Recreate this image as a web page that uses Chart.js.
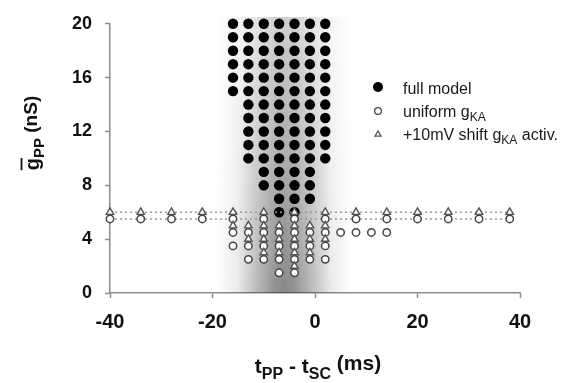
<!DOCTYPE html>
<html>
<head>
<meta charset="utf-8">
<script src="https://cdn.jsdelivr.net/npm/chart.js@4.4.1/dist/chart.umd.min.js"></script>
<style>
html, body { margin: 0; padding: 0; background: #fff; }
#wrap { width: 571px; height: 383px; position: relative; }
</style>
</head>
<body>
<div id="wrap"><canvas id="chart"></canvas></div>
<script>
// axis ticks
const xTicks = [-40, -20, 0, 20, 40];
const yTicks = [0, 4, 8, 12, 16, 20];

// full model: timing columns (ms) and the g values (nS) that fire
const fullTimes = [-16, -13, -10, -7, -4, -1, 2];
const fullG = [
  [20, 19, 18, 17, 16, 15],
  [20, 19, 18, 17, 16, 15, 14, 13, 12, 11, 10],
  [20, 19, 18, 17, 16, 15, 14, 13, 12, 11, 10, 9, 8],
  [20, 19, 18, 17, 16, 15, 14, 13, 12, 11, 10, 9, 8, 7, 6],
  [20, 19, 18, 17, 16, 15, 14, 13, 12, 11, 10, 9, 8, 7, 6],
  [20, 19, 18, 17, 16, 15, 14, 13, 12, 11, 10, 9, 8, 7],
  [20, 19, 18, 17, 16, 15, 14, 13, 12, 11, 10]
];

// dotted threshold rows (same timings for both variants)
const lineTimes = [-40, -34, -28, -22, -16, -10, -4, 2, 8, 14, 20, 26, 32, 38];
const uniformLineG = 5.5;
const shiftLineG = 6;

// uniform gKA: extra points below the dotted row
const uniformTimes = [-16, -13, -10, -7, -4, -1, 2, 5, 8, 11, 14];
const uniformG = [
  [4.5, 3.5],
  [4.5, 3.5, 2.5],
  [4.5, 3.5, 2.5],
  [4.5, 3.5, 2.5, 1.5],
  [4.5, 3.5, 2.5, 1.5],
  [4.5, 3.5, 2.5],
  [4.5, 3.5, 2.5],
  [4.5],
  [4.5],
  [4.5],
  [4.5]
];

// +10mV shift gKA activation: extra points below the dotted row
const shiftTimes = [-16, -13, -10, -7, -4, -1, 2];
const shiftG = [
  [5],
  [5, 4],
  [5, 4, 3],
  [5, 4, 3],
  [5, 4, 3, 2],
  [5, 4, 3],
  [5, 4]
];

// grey timing window behind the dots
const bandCenter = -6;
const bandHalf = 13;

const FONT = '"Liberation Sans", Arial, sans-serif';

function toPoints(times, gs) {
  return times.flatMap((t, i) => gs[i].map(g => ({ x: t, y: g })));
}

const bandPlugin = {
  id: 'band',
  beforeDatasetsDraw(chart) {
    const { ctx, scales: { x, y } } = chart;
    const x0 = x.getPixelForValue(bandCenter - bandHalf);
    const x1 = x.getPixelForValue(bandCenter + bandHalf);
    const top = y.getPixelForValue(20.5);
    const bottom = y.getPixelForValue(0);
    const p = 0.55;
    ctx.save();
    // horizontal profile
    const g = ctx.createLinearGradient(x0, 0, x1, 0);
    g.addColorStop(0, 'rgba(40,40,40,0)');
    g.addColorStop(0.15, `rgba(40,40,40,${p * 0.18})`);
    g.addColorStop(0.3, `rgba(40,40,40,${p * 0.6})`);
    g.addColorStop(0.44, `rgba(40,40,40,${p * 0.95})`);
    g.addColorStop(0.5, `rgba(40,40,40,${p})`);
    g.addColorStop(0.56, `rgba(40,40,40,${p * 0.95})`);
    g.addColorStop(0.7, `rgba(40,40,40,${p * 0.6})`);
    g.addColorStop(0.85, `rgba(40,40,40,${p * 0.18})`);
    g.addColorStop(1, 'rgba(40,40,40,0)');
    ctx.fillStyle = g;
    ctx.fillRect(x0, top, x1 - x0, bottom - top);
    // lighter toward the top
    const v = ctx.createLinearGradient(0, top, 0, bottom);
    v.addColorStop(0, 'rgba(255,255,255,0.6)');
    v.addColorStop(1, 'rgba(255,255,255,0)');
    ctx.fillStyle = v;
    ctx.fillRect(x0, top, x1 - x0, bottom - top);
    ctx.restore();
  }
};

// draws a row of text pieces, each {t, size, dy}
function drawParts(ctx, parts, x, y, align) {
  let w = 0;
  parts.forEach(p => {
    ctx.font = `${p.bold ? 'bold ' : ''}${p.size}px ${FONT}`;
    p.w = ctx.measureText(p.t).width;
    w += p.w;
  });
  let cx = align === 'center' ? x - w / 2 : x;
  parts.forEach(p => {
    ctx.font = `${p.bold ? 'bold ' : ''}${p.size}px ${FONT}`;
    p.x = cx;
    ctx.fillText(p.t, cx, y + (p.dy || 0));
    cx += p.w;
  });
  return parts;
}

const textPlugin = {
  id: 'texts',
  afterDraw(chart) {
    const { ctx, chartArea } = chart;
    ctx.save();
    ctx.fillStyle = '#111';
    ctx.textBaseline = 'alphabetic';
    ctx.textAlign = 'left';

    // x title
    const cx = (chartArea.left + chartArea.right) / 2 + 3;
    drawParts(ctx, [
      { t: 't', size: 21, bold: true },
      { t: 'PP', size: 16, bold: true, dy: 6 },
      { t: ' - t', size: 21, bold: true },
      { t: 'SC', size: 16, bold: true, dy: 6 },
      { t: ' (ms)', size: 21, bold: true, dy: -3 }
    ], cx, 373, 'center');

    // y title (rotated)
    ctx.save();
    ctx.translate(39, 133);
    ctx.rotate(-Math.PI / 2);
    const yp = drawParts(ctx, [
      { t: 'g', size: 20, bold: true },
      { t: 'PP', size: 15, bold: true, dy: 5 },
      { t: ' (nS)', size: 19, bold: true, dy: -2 }
    ], 0, 0, 'center');
    ctx.strokeStyle = '#111';
    ctx.lineWidth = 1.8;
    ctx.beginPath();
    ctx.moveTo(yp[0].x, -17.5);
    ctx.lineTo(yp[0].x + yp[0].w, -17.5);
    ctx.stroke();
    ctx.restore();

    // legend
    const mx = 378;
    ctx.fillStyle = '#000';
    ctx.beginPath();
    ctx.arc(mx, 87, 5, 0, Math.PI * 2);
    ctx.fill();

    ctx.fillStyle = '#fff';
    ctx.strokeStyle = '#444';
    ctx.lineWidth = 1.3;
    ctx.beginPath();
    ctx.arc(mx, 111, 3.4, 0, Math.PI * 2);
    ctx.fill();
    ctx.stroke();

    ctx.strokeStyle = '#555';
    ctx.beginPath();
    ctx.moveTo(mx, 131);
    ctx.lineTo(mx + 3, 136.2);
    ctx.lineTo(mx - 3, 136.2);
    ctx.closePath();
    ctx.fill();
    ctx.stroke();

    ctx.fillStyle = '#1a1a1a';
    const tx = 403;
    drawParts(ctx, [{ t: 'full model', size: 16 }], tx, 94, 'left');
    drawParts(ctx, [
      { t: 'uniform g', size: 16 },
      { t: 'KA', size: 12, dy: 4 }
    ], tx, 117, 'left');
    drawParts(ctx, [
      { t: '+10mV shift g', size: 16 },
      { t: 'KA', size: 12, dy: 4 },
      { t: ' activ.', size: 16 }
    ], tx, 140, 'left');
    ctx.restore();
  }
};

const axisGrey = '#8c8c8c';

new Chart(document.getElementById('chart'), {
  type: 'scatter',
  data: {
    datasets: [
      {
        label: 'full model',
        data: toPoints(fullTimes, fullG),
        pointStyle: 'circle',
        pointRadius: 5.2,
        backgroundColor: '#000',
        borderColor: '#000',
        borderWidth: 0,
        order: 5
      },
      {
        label: 'uniform gKA threshold',
        data: lineTimes.map(t => ({ x: t, y: uniformLineG })),
        showLine: true,
        borderColor: '#9a9a9a',
        borderWidth: 1.6,
        borderDash: [2, 3],
        pointStyle: 'circle',
        pointRadius: 3.7,
        pointBackgroundColor: '#fff',
        pointBorderColor: '#444',
        pointBorderWidth: 1.5,
        order: 4
      },
      {
        label: '+10mV shift threshold',
        data: lineTimes.map(t => ({ x: t, y: shiftLineG })),
        showLine: true,
        borderColor: '#9a9a9a',
        borderWidth: 1.6,
        borderDash: [2, 3],
        pointStyle: 'triangle',
        pointRadius: 4.3,
        pointBackgroundColor: '#fff',
        pointBorderColor: '#555',
        pointBorderWidth: 1.4,
        order: 3
      },
      {
        label: 'uniform gKA',
        data: toPoints(uniformTimes, uniformG),
        pointStyle: 'circle',
        pointRadius: 3.7,
        pointBackgroundColor: '#fff',
        pointBorderColor: '#444',
        pointBorderWidth: 1.5,
        order: 2
      },
      {
        label: '+10mV shift gKA activ.',
        data: toPoints(shiftTimes, shiftG),
        pointStyle: 'triangle',
        pointRadius: 4.3,
        pointBackgroundColor: '#fff',
        pointBorderColor: '#555',
        pointBorderWidth: 1.4,
        order: 1
      }
    ]
  },
  options: {
    responsive: true,
    maintainAspectRatio: false,
    animation: false,
    events: [],
    clip: false,
    layout: { padding: { left: 0, right: 51, top: 17, bottom: 0 } },
    plugins: {
      legend: { display: false },
      tooltip: { enabled: false }
    },
    scales: {
      x: {
        type: 'linear',
        min: -40,
        max: 40,
        afterBuildTicks: s => { s.ticks = xTicks.map(v => ({ value: v })); },
        afterFit: s => { s.height = 90; },
        ticks: {
          color: '#111',
          padding: 12,
          font: { family: FONT, size: 20, weight: 'bold' }
        },
        grid: {
          drawOnChartArea: false,
          drawTicks: true,
          tickLength: 5,
          tickColor: axisGrey,
          tickWidth: 1.5
        },
        border: { display: true, color: axisGrey, width: 1.5 }
      },
      y: {
        min: 0,
        max: 20,
        afterBuildTicks: s => { s.ticks = yTicks.map(v => ({ value: v })); },
        afterFit: s => { s.width = 110; },
        ticks: {
          color: '#111',
          padding: 13,
          font: { family: FONT, size: 18, weight: 'bold' }
        },
        grid: {
          drawOnChartArea: false,
          drawTicks: true,
          tickLength: 5,
          tickColor: axisGrey,
          tickWidth: 1.5
        },
        border: { display: true, color: axisGrey, width: 1.5 }
      }
    }
  },
  plugins: [bandPlugin, textPlugin]
});
</script>
</body>
</html>
